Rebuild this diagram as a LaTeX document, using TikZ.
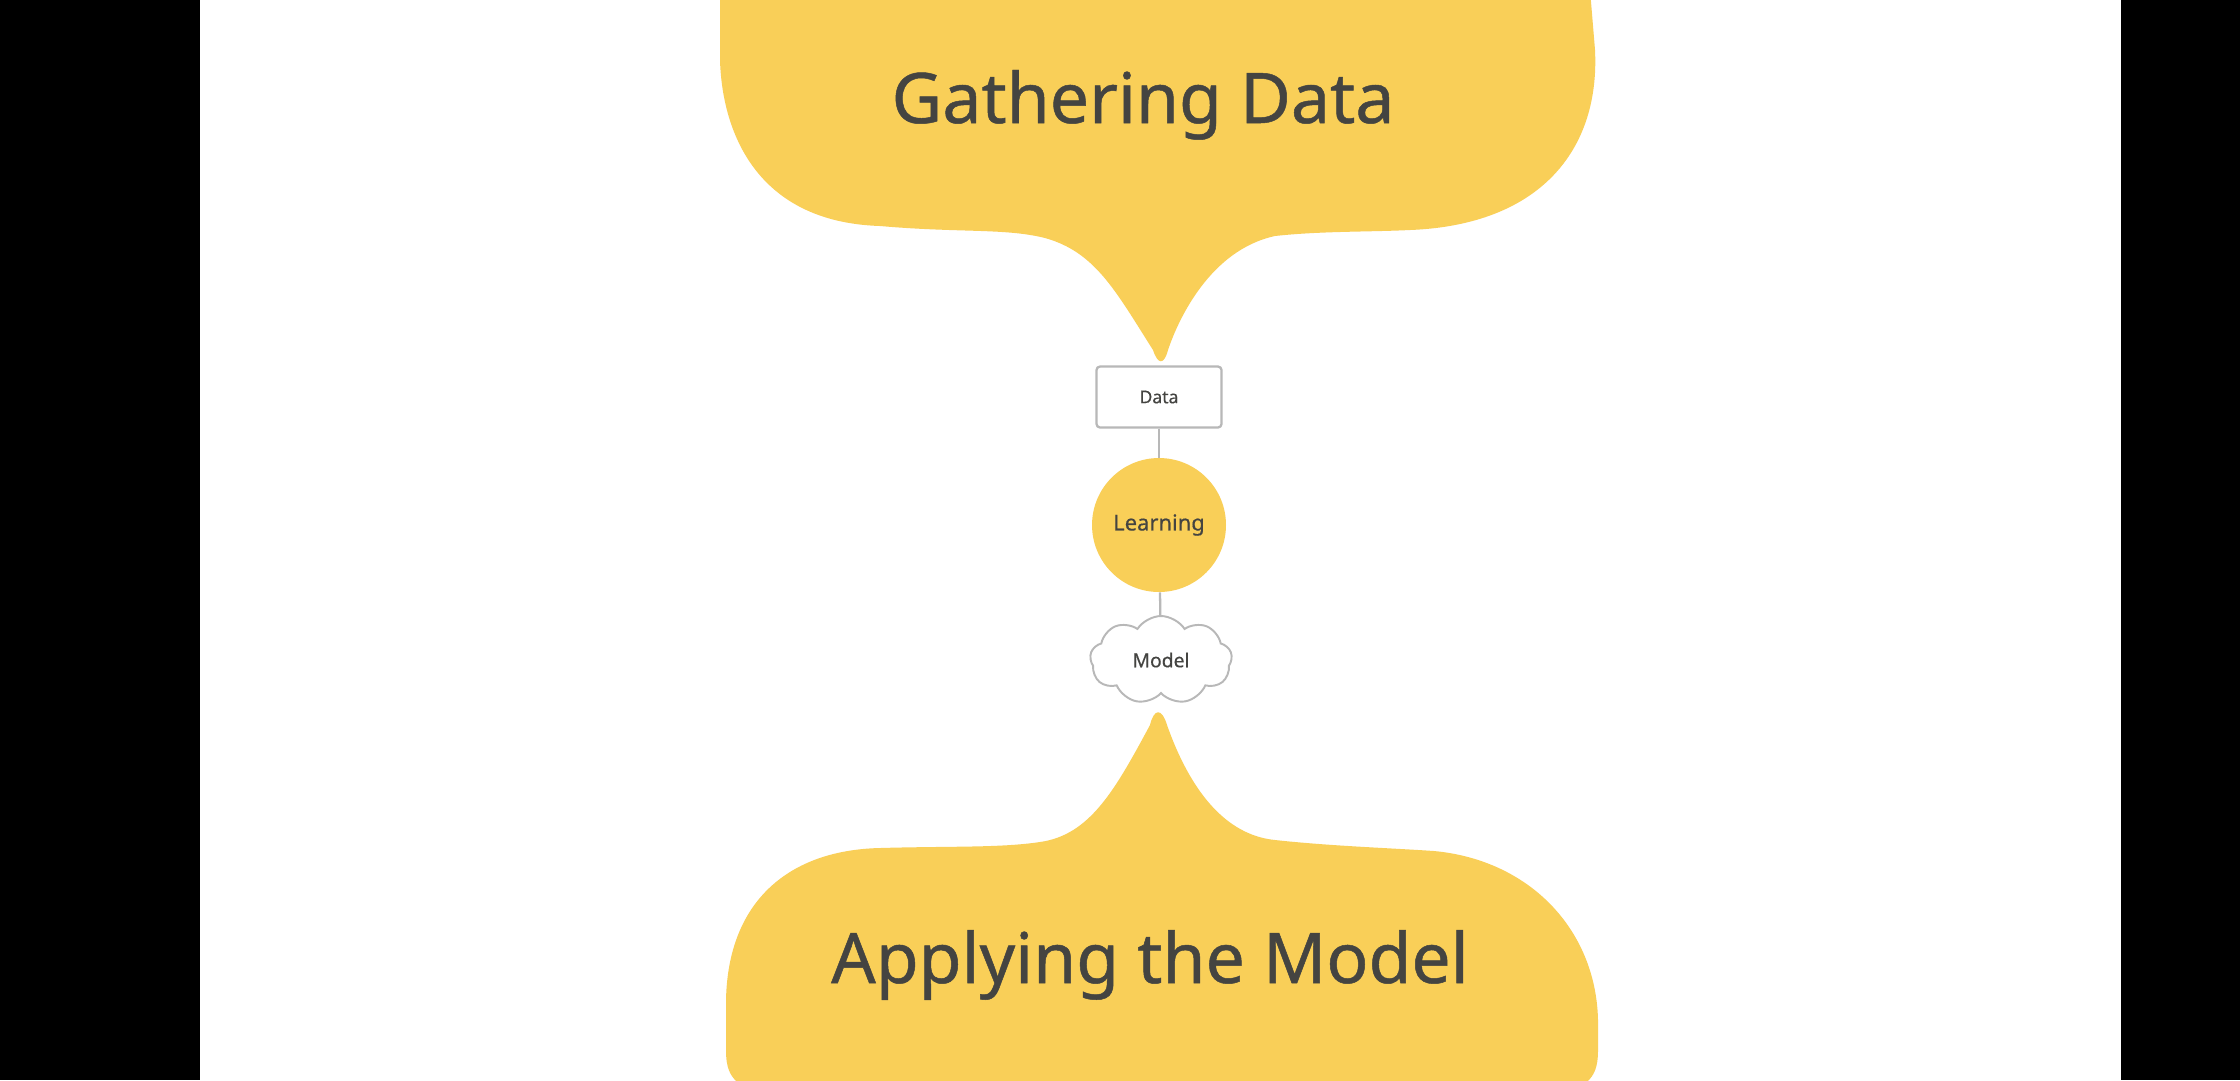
\documentclass[tikz,border=0pt]{standalone}
\usepackage{fontspec}
\setmainfont{Noto Sans}
\newfontfamily\headfont[FakeBold=0.7]{Noto Sans}
\newfontfamily\stepfont[FakeBold=0.4]{Noto Sans}
\usepackage{xcolor}
\definecolor{Col1}{RGB}{249,207,88}
\definecolor{Col2}{RGB}{184,184,184}
\definecolor{Col3}{RGB}{68,68,65}
\usepackage{tikz}
\usetikzlibrary{shapes.symbols}
\tikzstyle{Bubble}=[fill=Col1]
\tikzstyle{Edge}=[draw=Col2,line width=1.3pt]
\tikzstyle{NodeBig}=[text=Col3,font=\headfont\fontsize{39.7}{48}\selectfont,inner sep=0pt,anchor=base]
\tikzstyle{NodeData}=[draw=Col2,fill=white,line width=1.3pt,rounded corners=2pt,
minimum width=2.5cm,minimum height=1.22cm,text=Col3,font=\stepfont\fontsize{10}{12}\selectfont]
\tikzstyle{NodeLearn}=[circle,fill=Col1,minimum size=2.68cm,inner sep=0pt,text=Col3,
font=\stepfont\fontsize{12.5}{15}\selectfont]
\tikzstyle{NodeModel}=[cloud,cloud puffs=9,cloud puff arc=115,aspect=1.6,draw=Col2,fill=white,
line width=1.1pt,minimum width=2.84cm,minimum height=1.76cm,inner sep=0pt,text=Col3,
font=\stepfont\fontsize{11}{13}\selectfont]

\begin{document}
\begin{tikzpicture}[x=.02cm,y=-.02cm]
        \useasboundingbox(0,0)rectangle(2240,1080);
        \fill[white](0,0)rectangle(2240,1080);
        \fill[black](0,0)rectangle(200,1080);
        \fill[black](2121,0)rectangle(2240,1080);
        % speech shapes
        \begin{scope}
        \clip(0,0)rectangle(2240,1080);
        \fill[Bubble](720,-10)--(720,60) .. controls (722,130) and (755,222) .. (880,226)
            .. controls (960,233) and (1005,228) .. (1045,238)
            .. controls (1095,252) and (1115,290) .. (1153,350)
            .. controls (1158,365) and (1164,365) .. (1168,350)
            .. controls (1178,320) and (1210,250) .. (1275,236)
            .. controls (1320,231) and (1370,232) .. (1410,230)
            .. controls (1540,225) and (1600,150) .. (1595,50)--(1590,-10)--cycle;
        \fill[Bubble](726,1000) .. controls (728,900) and (790,850) .. (880,848)
            .. controls (950,846) and (1000,848) .. (1040,842)
            .. controls (1090,835) and (1115,790) .. (1150,725)
            .. controls (1154,708) and (1162,708) .. (1167,725)
            .. controls (1190,790) and (1225,835) .. (1275,840)
            .. controls (1330,846) and (1390,848) .. (1434,851)
            .. controls (1530,860) and (1596,930) .. (1598,1020)--(1598,1050)
            .. controls (1598,1068) and (1594,1075) .. (1587,1082)--(737,1082)
            .. controls (730,1075) and (726,1068) .. (726,1050)--cycle;
        \end{scope}
        \node[NodeBig](gather)at(1143,123){Gathering Data};
        \node[NodeBig](apply)at(1150,983){Applying the Model};
        % the three steps
        \node[NodeData](data)at(1159,397){Data};
        \node[NodeLearn](learn)at(1159,525){\raisebox{-3pt}{Learning}};
        \node[NodeModel](model)at(1161,660){Model};
        \draw[Edge](data)--(learn);
        \draw[Edge](learn)--(model);
\end{tikzpicture}
\end{document}
